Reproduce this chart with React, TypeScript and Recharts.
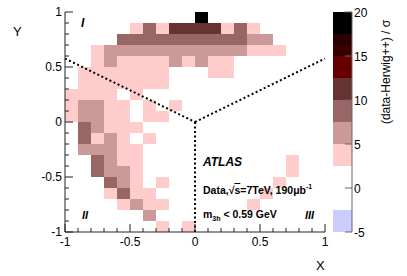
import React from "react";
import { ScatterChart, Scatter, XAxis, YAxis, ReferenceArea, ReferenceLine } from "recharts";

// bin edges for X and Y (20 bins of 0.1)
const binEdges = [
  -1, -0.9, -0.8, -0.7, -0.6, -0.5, -0.4, -0.3, -0.2, -0.1, 0, 0.1, 0.2, 0.3, 0.4, 0.5, 0.6, 0.7,
  0.8, 0.9, 1,
];
const majorTicks = [-1, -0.5, 0, 0.5, 1];

// (data-Herwig++)/sigma per bin, rows from Y=1 (top) down to Y=-1, columns X=-1..1
const sig: number[][] = [
  [0, 0, 0, 0, 0, 0, 0, 0, 0, 0, 19, 0, 0, 0, 0, 0, 0, 0, 0, 0],
  [0, 0, 0, 0, 0, 3.5, 8.5, 3.5, 11, 11, 11, 11, 3.5, 8.5, 3.5, 0, 0, 0, 0, 0],
  [0, 0, 0, 0, 8.5, 8.5, 8.5, 8.5, 8.5, 8.5, 8.5, 8.5, 8.5, 8.5, 6, 6, 0, 0, 0, 0],
  [0, 0, 3.5, 6, 6, 6, 6, 6, 6, 6, 6, 6, 6, 6, 3.5, 3.5, 3.5, 0, 0, 0],
  [0, 0, 3.5, 6, 3.5, 3.5, 3.5, 3.5, 6, 3.5, 6, 3.5, 3.5, 0, 0, 0, 0, 0, 0, 0],
  [0, 3.5, 3.5, 3.5, 3.5, 3.5, 3.5, 3.5, 0, 0, 0, 3.5, 3.5, 0, 0, 0, 0, 0, 0, 0],
  [0, 3.5, 3.5, 3.5, 3.5, 3.5, 3.5, 3.5, 0, 0, 0, 0, 0, 0, 0, 0, 0, 0, 0, 0],
  [3.5, 3.5, 3.5, 3.5, 0, 3.5, 0, 0, 0, 0, 0, 0, 0, 0, 0, 0, 0, 0, 0, 0],
  [3.5, 6, 6, 3.5, 3.5, 0, 3.5, 0, 3.5, 0, 0, 0, 0, 0, 0, 0, 0, 0, 0, 0],
  [3.5, 6, 6, 3.5, 3.5, 0, 3.5, 3.5, 0, 0, 0, 0, 0, 0, 0, 0, 0, 0, 0, 0],
  [0, 8.5, 6, 3.5, 3.5, 3.5, 0, 0, 0, 0, 0, 0, 0, 0, 0, 0, 0, 0, 0, 0],
  [0, 8.5, 3.5, 6, 3.5, 0, 3.5, 0, 0, 0, 0, 0, 0, 0, 0, 0, 0, 0, 0, 0],
  [0, 6, 6, 6, 3.5, 3.5, 0, 0, 0, 0, 0, 0, 0, 0, 0, 0, 0, 0, 0, 0],
  [0, 0, 8.5, 6, 3.5, 3.5, 0, 0, 0, 0, 0, 0, 0, 0, 0, 0, 0, 3.5, 0, 0],
  [0, 0, 8.5, 6, 6, 3.5, 0, 0, 0, 0, 0, 0, 0, 0, 0, 0, 0, 3.5, 0, 0],
  [0, 0, 0, 8.5, 6, 3.5, 0, 3.5, 0, 0, 0, 0, 0, 0, 0, 0, 3.5, 0, 0, 0],
  [0, 0, 0, 3.5, 8.5, 3.5, 3.5, 0, 0, 0, 0, 0, 0, 0, 0, 3.5, 0, 0, 0, 0],
  [0, 0, 0, 0, 3.5, 6, 3.5, 3.5, 0, 0, 0, 0, 0, 0, 3.5, 0, 0, 0, 0, 0],
  [0, 0, 0, 0, 0, 0, 6, 0, 0, 0, 0, 0, 0, 0, 0, 0, 0, 0, 0, 0],
  [0, 0, 0, 0, 0, 0, 0, 3.5, 0, 3.5, 0, 0, 0, 0, 0, 0, 0, 0, 0, 0],
];

// palette of the z axis
const colorEdges = [-5, -2.5, 2.5, 5, 7.5, 10, 12.5, 15, 16.25, 17.5, 20];
const colorBands = [
  "#ccccff", "#ffffff", "#ffcccc", "#cc9999", "#996666", "#663333", "#660000", "#380000", "#2a0000", "#000000",
];
const zTicks = [-5, 0, 5, 10, 15, 20];

// sector boundaries (dotted)
const sectorLines = [
  [{ x: -1, y: 0.577 }, { x: 0, y: 0 }],
  [{ x: 0, y: 0 }, { x: 1, y: 0.577 }],
  [{ x: 0, y: 0 }, { x: 0, y: -1 }],
];

const FONT = "'Liberation Sans', Arial, Helvetica, sans-serif";
const AXIS = "#222";

function colorFor(v: number) {
  for (let k = 0; k < colorBands.length; k++) {
    if (v >= colorEdges[k] && v < colorEdges[k + 1]) return colorBands[k];
  }
  return colorBands[colorBands.length - 1];
}

type Cell = { x: number; y: number; x1: number; x2: number; y1: number; y2: number; v: number };

const cells: Cell[] = [];
sig.forEach((row, r) => {
  const j = sig.length - 1 - r;
  row.forEach((v, i) => {
    if (v === 0) return;
    const x1 = binEdges[i], x2 = binEdges[i + 1], y1 = binEdges[j], y2 = binEdges[j + 1];
    cells.push({ x: (x1 + x2) / 2, y: (y1 + y2) / 2, x1, x2, y1, y2, v });
  });
});

const bands = colorBands.map((c, k) => ({
  x: 0.5,
  y: (colorEdges[k] + colorEdges[k + 1]) / 2,
  y1: colorEdges[k],
  y2: colorEdges[k + 1],
  c,
}));

const isMajor = (v: number) => majorTicks.some((m) => Math.abs(m - v) < 1e-6);

function BottomTick({ x, y, payload }: any) {
  const major = isMajor(payload.value);
  return (
    <g>
      <line x1={x} y1={y} x2={x} y2={y - (major ? 8 : 4)} stroke={AXIS} />
      {major && (
        <text x={x} y={y + 14} textAnchor="middle" fontSize={12} fontFamily={FONT} fill="#000">
          {String(payload.value)}
        </text>
      )}
    </g>
  );
}

function TopTick({ x, y, payload }: any) {
  const major = isMajor(payload.value);
  return <line x1={x} y1={y} x2={x} y2={y + (major ? 8 : 4)} stroke={AXIS} />;
}

function LeftTick({ x, y, payload }: any) {
  const major = isMajor(payload.value);
  return (
    <g>
      <line x1={x} y1={y} x2={x + (major ? 8 : 4)} y2={y} stroke={AXIS} />
      {major && (
        <text x={x - 3} y={y + 4} textAnchor="end" fontSize={12} fontFamily={FONT} fill="#000">
          {String(payload.value)}
        </text>
      )}
    </g>
  );
}

function RightTick({ x, y, payload }: any) {
  const major = isMajor(payload.value);
  return <line x1={x} y1={y} x2={x - (major ? 8 : 4)} y2={y} stroke={AXIS} />;
}

function ZTick({ x, y, payload }: any) {
  return (
    <g>
      <line x1={x} y1={y} x2={x - 7} y2={y} stroke="#666" />
      <text x={x + 2} y={y + 5} textAnchor="start" fontSize={12} fontFamily={FONT} fill="#000">
        {String(payload.value)}
      </text>
    </g>
  );
}

const noShape = () => <g />;

const abs = (left: number, top: number, extra: React.CSSProperties = {}): React.CSSProperties => ({
  position: "absolute",
  left,
  top,
  fontFamily: FONT,
  whiteSpace: "nowrap",
  lineHeight: 1,
  ...extra,
});

export default function App() {
  return (
    <div style={{ position: "absolute", left: 0, top: 0, width: 407, height: 276, background: "#fff" }}>
      <ScatterChart width={407} height={276} margin={{ top: 12, right: 82, bottom: 0, left: 0 }}>
        <XAxis
          type="number"
          dataKey="x"
          domain={[-1, 1]}
          ticks={binEdges}
          interval={0}
          height={44}
          tickSize={0}
          tickMargin={0}
          tickLine={false}
          axisLine={{ stroke: AXIS }}
          tick={BottomTick}
        />
        <XAxis
          xAxisId="top"
          orientation="top"
          type="number"
          dataKey="x"
          domain={[-1, 1]}
          ticks={binEdges}
          interval={0}
          height={0}
          tickSize={0}
          tickMargin={0}
          tickLine={false}
          axisLine={{ stroke: AXIS }}
          tick={TopTick}
        />
        <YAxis
          type="number"
          dataKey="y"
          domain={[-1, 1]}
          ticks={binEdges}
          interval={0}
          width={65}
          tickSize={0}
          tickMargin={0}
          tickLine={false}
          axisLine={{ stroke: AXIS }}
          tick={LeftTick}
        />
        <YAxis
          yAxisId="right"
          orientation="right"
          type="number"
          dataKey="y"
          domain={[-1, 1]}
          ticks={binEdges}
          interval={0}
          width={0}
          tickSize={0}
          tickMargin={0}
          tickLine={false}
          axisLine={{ stroke: AXIS }}
          tick={RightTick}
        />
        {cells.map((c, k) => (
          <ReferenceArea
            key={`c${k}`}
            x1={c.x1}
            x2={c.x2}
            y1={c.y1}
            y2={c.y2}
            fill={colorFor(c.v)}
            fillOpacity={1}
            stroke="none"
            ifOverflow="visible"
          />
        ))}
        {sectorLines.map((seg, k) => (
          <ReferenceLine
            key={`s${k}`}
            segment={seg}
            stroke="#000"
            strokeWidth={2}
            strokeDasharray="2 2.5"
            ifOverflow="visible"
          />
        ))}
        <Scatter data={cells} shape={noShape} isAnimationActive={false} />
        <Scatter data={cells} xAxisId="top" yAxisId="right" shape={noShape} isAnimationActive={false} />
      </ScatterChart>

      <div style={{ position: "absolute", left: 333, top: 0 }}>
        <ScatterChart width={74} height={276} margin={{ top: 12, right: 0, bottom: 44, left: 0 }}>
          <XAxis type="number" dataKey="x" domain={[0, 1]} hide />
          <YAxis
            type="number"
            dataKey="y"
            orientation="right"
            domain={[-5, 20]}
            ticks={zTicks}
            interval={0}
            width={55}
            tickSize={0}
            tickMargin={0}
            tickLine={false}
            axisLine={{ stroke: "#666" }}
            tick={ZTick}
          />
          {bands.map((b, k) => (
            <ReferenceArea
              key={`b${k}`}
              x1={0}
              x2={1}
              y1={b.y1}
              y2={b.y2}
              fill={b.c}
              fillOpacity={1}
              stroke="none"
              ifOverflow="visible"
            />
          ))}
          <Scatter data={bands} shape={noShape} isAnimationActive={false} />
        </ScatterChart>
      </div>

      {/* axis titles */}
      <div style={abs(13, 25, { fontSize: 13 })}>Y</div>
      <div style={abs(316, 259, { fontSize: 13 })}>X</div>
      <div
        style={abs(386, 72, {
          fontSize: 12,
          transform: "translate(-50%, -50%) rotate(-90deg)",
        })}
      >
        (data-Herwig++) / σ
      </div>

      {/* sector labels */}
      <div style={abs(81, 17, { fontSize: 12, fontWeight: "bold", fontStyle: "italic" })}>I</div>
      <div style={abs(82, 210, { fontSize: 11, fontWeight: "bold", fontStyle: "italic" })}>II</div>
      <div style={abs(305, 210, { fontSize: 11, fontWeight: "bold", fontStyle: "italic" })}>III</div>

      {/* ATLAS text */}
      <div style={abs(203, 156, { fontSize: 12, fontWeight: "bold", fontStyle: "italic" })}>ATLAS</div>
      <div style={abs(203, 183, { fontSize: 10.5, fontWeight: "bold" })}>
        Data,√<span style={{ textDecoration: "overline" }}>s</span>=7TeV, 190μb
        <sup style={{ fontSize: 7, verticalAlign: 5 }}>-1</sup>
      </div>
      <div style={abs(203, 209, { fontSize: 10.5, fontWeight: "bold" })}>
        m<sub style={{ fontSize: 7, verticalAlign: -3 }}>3h</sub> &lt; 0.59 GeV
      </div>
    </div>
  );
}
